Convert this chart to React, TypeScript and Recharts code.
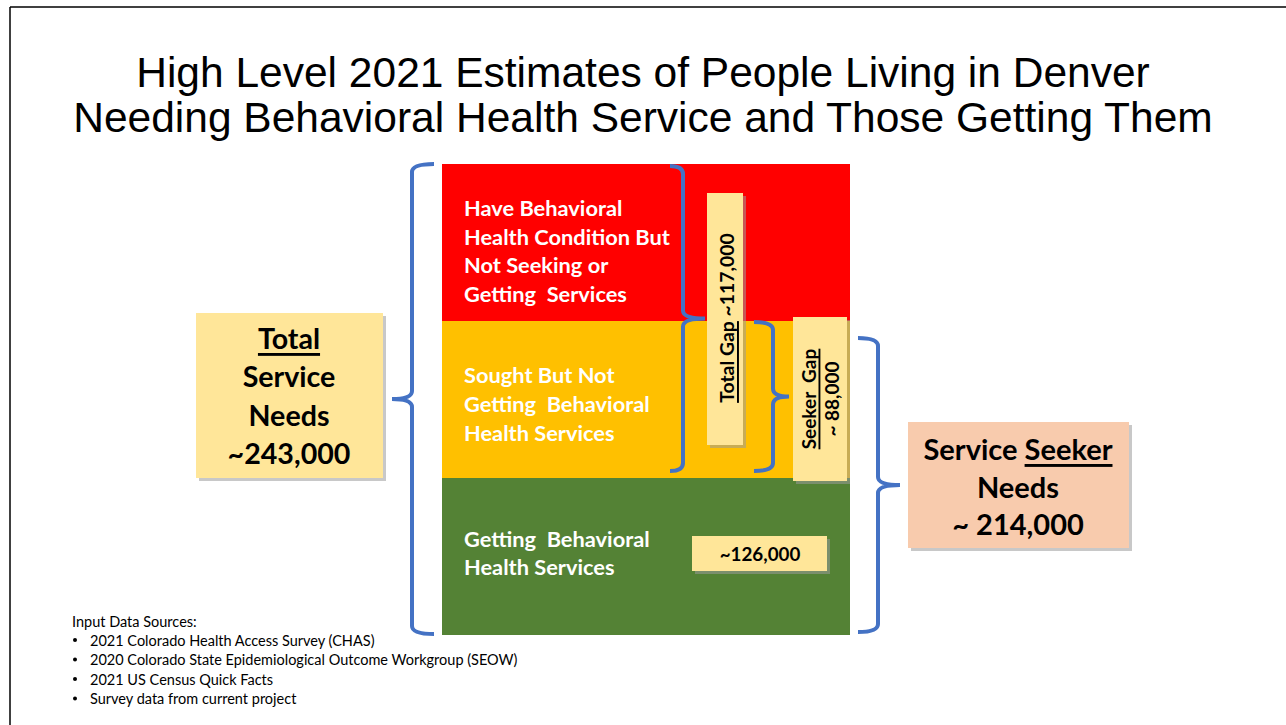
import React from "react";
import { BarChart, Bar, XAxis, YAxis } from "recharts";

// ---- data ----
const categories = ["Denver 2021"];
// segment display sizes (drawn equal in the reference)
const gettingServices = [1];
const soughtNotGetting = [1];
const notSeeking = [1];
const segmentLabels = {
  getting: ["Getting  Behavioral", "Health Services"],
  sought: ["Sought But Not", "Getting  Behavioral", "Health Services"],
  notSeeking: ["Have Behavioral", "Health Condition But", "Not Seeking or", "Getting  Services"],
};
const titleLines = [
  "High Level 2021 Estimates of People Living in Denver",
  "Needing Behavioral Health Service and Those Getting Them",
];
const totalNeedsLines = ["Total", "Service", "Needs", "~243,000"];
const seekerNeedsValue = "~ 214,000";
const gettingValue = "~126,000";
const totalGapValue = "~117,000";
const seekerGapValue = "~ 88,000";
const sources = [
  "2021 Colorado Health Access Survey (CHAS)",
  "2020 Colorado State Epidemiological Outcome Workgroup (SEOW)",
  "2021 US Census Quick Facts",
  "Survey data from current project",
];

const data = categories.map((c, i) => ({
  name: c,
  getting: gettingServices[i],
  sought: soughtNotGetting[i],
  notSeeking: notSeeking[i],
}));

const W = 1286;
const H = 725;
const BODY = "Lato, 'Open Sans', sans-serif";
const BLUE = "#4472C4";

const makeLabel = (lines: string[], dy: number) => (props: any) => {
  const { x, y, height } = props;
  const cy = y + height / 2 + dy;
  const lh = 28.7;
  const start = cy - ((lines.length - 1) * lh) / 2;
  return (
    <g>
      {lines.map((l, i) => (
        <text
          key={i}
          x={x + 22}
          y={start + i * lh}
          dominantBaseline="central"
          fill="#fff"
          fontFamily={BODY}
          fontWeight={700}
          fontSize={21.8}
          style={{ whiteSpace: "pre" }}
        >
          {l}
        </text>
      ))}
    </g>
  );
};

// curly brace path: vertical, from y1 to y2 at x, pointing direction dir (-1 left, +1 right)
function bracePath(x: number, y1: number, y2: number, tip: number, point: number, dir: number) {
  const xm = x;
  const xt = x - dir * tip;
  const xp = x + dir * point;
  const ym = (y1 + y2) / 2;
  const r = 8;
  return [
    `M ${xt} ${y1}`,
    `Q ${xm} ${y1} ${xm} ${y1 + r}`,
    `L ${xm} ${ym - r}`,
    `Q ${xm} ${ym} ${xp} ${ym}`,
    `Q ${xm} ${ym} ${xm} ${ym + r}`,
    `L ${xm} ${y2 - r}`,
    `Q ${xm} ${y2} ${xt} ${y2}`,
  ].join(" ");
}

const Box = ({ x, y, w, h, fill }: any) => (
  <g>
    <rect x={x + 3} y={y + 3} width={w} height={h} fill="#9a9a9a" opacity={0.55} />
    <rect x={x} y={y} width={w} height={h} fill={fill} />
  </g>
);

export default function App() {
  return (
    <div style={{ position: "absolute", left: 0, top: 0, width: W, height: H, background: "#fff" }}>
      <div style={{ position: "absolute", left: 0, top: 0 }}>
        <BarChart
          width={W}
          height={H}
          data={data}
          margin={{ top: 164, right: 436, bottom: 90, left: 442 }}
          barCategoryGap={0}
        >
          <XAxis dataKey="name" hide />
          <YAxis hide domain={[0, 3]} />
          <Bar dataKey="getting" stackId="a" fill="#548235" isAnimationActive={false} label={makeLabel(segmentLabels.getting, -4)} />
          <Bar dataKey="sought" stackId="a" fill="#FFC000" isAnimationActive={false} label={makeLabel(segmentLabels.sought, 4)} />
          <Bar dataKey="notSeeking" stackId="a" fill="#FF0000" isAnimationActive={false} label={makeLabel(segmentLabels.notSeeking, 8)} />
        </BarChart>
      </div>
      <svg
        width={W}
        height={H}
        style={{ position: "absolute", left: 0, top: 0, pointerEvents: "none" }}
      >
        {/* slide border */}
        <line x1={10} y1={7} x2={W} y2={7} stroke="#000" strokeWidth={1.5} />
        <line x1={10} y1={7} x2={10} y2={H} stroke="#000" strokeWidth={1.5} />

        {/* title */}
        {titleLines.map((t, i) => (
          <text
            key={i}
            x={643}
            y={72 + i * 45}
            textAnchor="middle"
            dominantBaseline="central"
            fontFamily="'Liberation Sans', Arial, sans-serif"
            fontSize={42.5}
            fill="#000"
          >
            {t}
          </text>
        ))}

        {/* braces */}
        <path d={bracePath(412, 164, 634, 22, 20, -1)} fill="none" stroke={BLUE} strokeWidth={4} />
        <path d={bracePath(683, 166, 471, 13, 22, 1)} fill="none" stroke={BLUE} strokeWidth={4} />
        <path d={bracePath(773, 322, 471, 19, 16, 1)} fill="none" stroke={BLUE} strokeWidth={4} />
        <path d={bracePath(878, 338, 632, 20, 22, 1)} fill="none" stroke={BLUE} strokeWidth={4} />

        {/* total gap box */}
        <Box x={707} y={193} w={36} h={252} fill="#FFE699" />
        <text
          transform="translate(726 318) rotate(-90)"
          textAnchor="middle"
          dominantBaseline="central"
          fontFamily={BODY}
          fontWeight={700}
          fontSize={19.4}
          fill="#000"
        >
          <tspan textDecoration="underline">Total Gap</tspan>
          <tspan> {totalGapValue}</tspan>
        </text>

        {/* seeker gap box */}
        <Box x={793} y={317} w={54} h={164} fill="#FFE699" />
        <text
          transform="translate(808 399) rotate(-90)"
          textAnchor="middle"
          dominantBaseline="central"
          fontFamily={BODY}
          fontWeight={700}
          fontSize={19}
          fill="#000"
          textDecoration="underline"
          style={{ whiteSpace: "pre" }}
        >
          {"Seeker  Gap"}
        </text>
        <text
          transform="translate(831 399) rotate(-90)"
          textAnchor="middle"
          dominantBaseline="central"
          fontFamily={BODY}
          fontWeight={700}
          fontSize={19}
          fill="#000"
        >
          {seekerGapValue}
        </text>

        {/* getting value box */}
        <Box x={692} y={536} w={135} h={35} fill="#FFE699" />
        <text
          x={760}
          y={553}
          textAnchor="middle"
          dominantBaseline="central"
          fontFamily={BODY}
          fontWeight={700}
          fontSize={18.8}
          fill="#000"
        >
          {gettingValue}
        </text>

        {/* total needs box */}
        <Box x={196} y={313} w={187} h={165} fill="#FFE699" />
        {totalNeedsLines.map((l, i) => (
          <text
            key={i}
            x={289}
            y={338 + i * 38.3}
            textAnchor="middle"
            dominantBaseline="central"
            fontFamily={BODY}
            fontWeight={700}
            fontSize={28.6}
            fill="#000"
            textDecoration={i === 0 ? "underline" : undefined}
          >
            {l}
          </text>
        ))}

        {/* seeker needs box */}
        <Box x={908} y={422} w={221} h={126} fill="#F8CBAD" />
        <text
          x={1018}
          y={448}
          textAnchor="middle"
          dominantBaseline="central"
          fontFamily={BODY}
          fontWeight={700}
          fontSize={29}
          fill="#000"
        >
          <tspan>Service </tspan>
          <tspan textDecoration="underline">Seeker</tspan>
        </text>
        <text x={1018} y={486} textAnchor="middle" dominantBaseline="central" fontFamily={BODY} fontWeight={700} fontSize={29} fill="#000">
          Needs
        </text>
        <text x={1018} y={523} textAnchor="middle" dominantBaseline="central" fontFamily={BODY} fontWeight={700} fontSize={29} fill="#000">
          {seekerNeedsValue}
        </text>

        {/* sources */}
        <text x={72} y={621} dominantBaseline="central" fontFamily={BODY} fontSize={14.5} fill="#000">
          Input Data Sources:
        </text>
        {sources.map((s, i) => (
          <g key={i}>
            <circle cx={75} cy={640 + i * 19.5} r={2} fill="#000" />
            <text x={90} y={640 + i * 19.5} dominantBaseline="central" fontFamily={BODY} fontSize={14.5} fill="#000">
              {s}
            </text>
          </g>
        ))}
      </svg>
    </div>
  );
}
